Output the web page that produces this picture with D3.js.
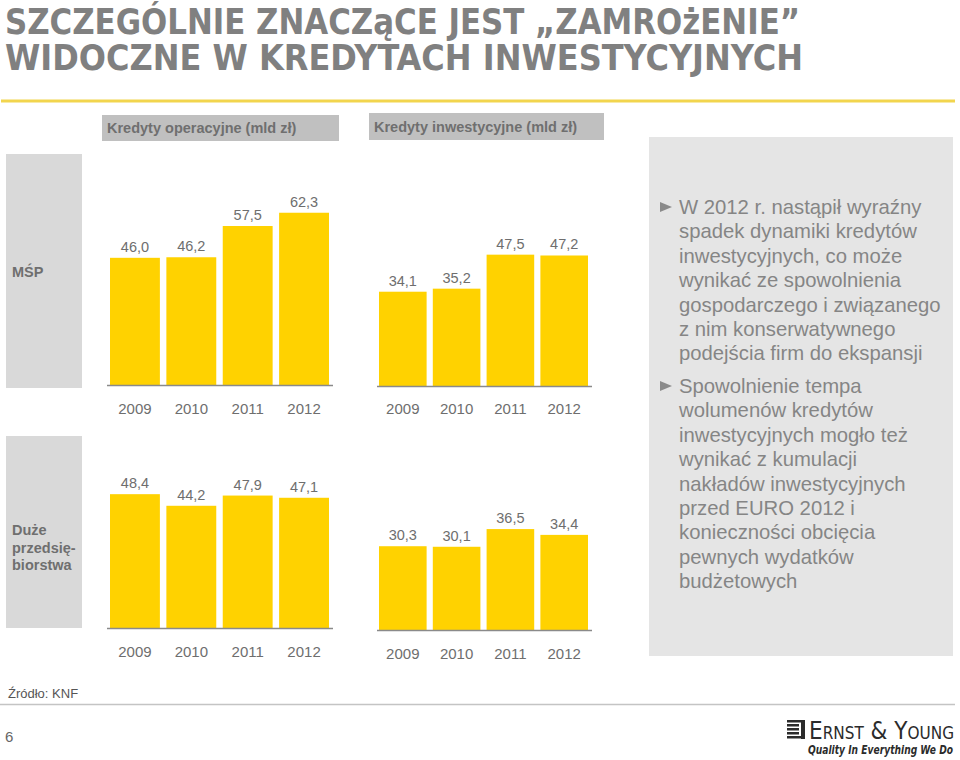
<!DOCTYPE html>
<html>
<head>
<meta charset="utf-8">
<script src="https://cdn.jsdelivr.net/npm/d3@7"></script>
<style>
  html, body { margin: 0; padding: 0; background: #fff; }
  svg { display: block; }
</style>
</head>
<body>
<svg id="chart" width="960" height="760"></svg>
<script>
// ---- data ----
const years = ["2009", "2010", "2011", "2012"];
const mspOperacyjne = [46.0, 46.2, 57.5, 62.3];
const mspInwestycyjne = [34.1, 35.2, 47.5, 47.2];
const duzeOperacyjne = [48.4, 44.2, 47.9, 47.1];
const duzeInwestycyjne = [30.3, 30.1, 36.5, 34.4];

const titleLines = ["SZCZEGÓLNIE ZNACZąCE JEST „ZAMROżENIE”", "WIDOCZNE W KREDYTACH INWESTYCYJNYCH"];
const columnHeaders = ["Kredyty operacyjne (mld zł)", "Kredyty inwestycyjne (mld zł)"];
const rowLabels = [["MŚP"], ["Duże", "przedsię-", "biorstwa"]];
const bullets = [
  ["W 2012 r. nastąpił wyraźny", "spadek dynamiki kredytów", "inwestycyjnych, co może", "wynikać ze spowolnienia", "gospodarczego i związanego", "z nim konserwatywnego", "podejścia firm do ekspansji"],
  ["Spowolnienie tempa", "wolumenów kredytów", "inwestycyjnych mogło też", "wynikać z kumulacji", "nakładów inwestycyjnych", "przed EURO 2012 i", "konieczności obcięcia", "pewnych wydatków", "budżetowych"]
];
const sourceText = "Źródło: KNF";
const pageNumber = "6";
const logoName = "Ernst & Young";
const logoTagline = "Quality In Everything We Do";

// ---- styles ----
const YELLOW = "#ffd200";
const GREY_TXT = "#6e6e6e";
const FONT = "'Liberation Sans', Arial, Helvetica, sans-serif";
const TITLE_FONT = "'DejaVu Sans Condensed', 'DejaVu Sans', sans-serif";

const svg = d3.select("#chart");

// Title
const title = svg.append("g").attr("fill", "#808080")
  .style("font-family", TITLE_FONT)
  .style("font-weight", "bold").style("font-size", "35px");
title.append("text").attr("x", 5).attr("y", 33.5).attr("textLength", 795)
  .attr("lengthAdjust", "spacingAndGlyphs").text(titleLines[0]);
title.append("text").attr("x", 5).attr("y", 69.5).attr("textLength", 798)
  .attr("lengthAdjust", "spacingAndGlyphs").text(titleLines[1]);

// Yellow rule
svg.append("line").attr("x1", 1).attr("x2", 955).attr("y1", 101).attr("y2", 101)
  .attr("stroke", "#f2d54e").attr("stroke-width", 3);

// Column headers
const headerBoxes = [{x: 102, y: 115, w: 237, h: 26}, {x: 369, y: 113, w: 235, h: 27}];
headerBoxes.forEach((b, i) => {
  svg.append("rect").attr("x", b.x).attr("y", b.y).attr("width", b.w).attr("height", b.h).attr("fill", "#c0c0c0");
  svg.append("text").attr("x", b.x + 5).attr("y", b.y + b.h / 2 + 5)
    .attr("fill", "#6f6f6f").style("font-family", FONT).style("font-weight", "bold").style("font-size", "14.5px")
    .text(columnHeaders[i]);
});

// Row label boxes
const rowBoxes = [{x: 6, y: 154, w: 76, h: 234, ys: [277]}, {x: 6, y: 436, w: 76, h: 192, ys: [535, 552.5, 570]}];
rowBoxes.forEach((b, i) => {
  svg.append("rect").attr("x", b.x).attr("y", b.y).attr("width", b.w).attr("height", b.h).attr("fill", "#d9d9d9");
  rowLabels[i].forEach((t, j) => {
    svg.append("text").attr("x", 12).attr("y", b.ys[j]).attr("fill", "#6f6f6f")
      .style("font-family", FONT).style("font-weight", "bold").style("font-size", "14.5px").text(t);
  });
});

// Bar panels
const yPerUnit = 2.765;
const y = d3.scaleLinear().domain([0, 70]).range([0, 70 * yPerUnit]);
const fmt = v => d3.format(".1f")(v).replace(".", ",");

const panels = [
  {data: mspOperacyjne, x0: 110, x1: 329, ax0: 107, ax1: 333, base: 385, yearY: 414},
  {data: mspInwestycyjne, x0: 379, x1: 588, ax0: 377, ax1: 592, base: 386, yearY: 414},
  {data: duzeOperacyjne, x0: 110, x1: 329, ax0: 107, ax1: 333, base: 628, yearY: 657},
  {data: duzeInwestycyjne, x0: 379, x1: 588, ax0: 377, ax1: 592, base: 630, yearY: 659}
];

panels.forEach(p => {
  const x = d3.scaleBand().domain(years).range([p.x0, p.x1]).paddingInner(0.115).paddingOuter(0);
  const g = svg.append("g");
  const rows = years.map((yr, i) => ({yr, v: p.data[i]}));
  g.selectAll("rect.bar").data(rows).join("rect").attr("class", "bar")
    .attr("x", d => x(d.yr)).attr("width", x.bandwidth())
    .attr("y", d => p.base - y(d.v)).attr("height", d => y(d.v))
    .attr("fill", YELLOW);
  g.selectAll("text.val").data(rows).join("text").attr("class", "val")
    .attr("x", d => x(d.yr) + x.bandwidth() / 2).attr("y", d => p.base - y(d.v) - 6)
    .attr("text-anchor", "middle").attr("fill", GREY_TXT)
    .style("font-family", FONT).style("font-size", "14.5px").text(d => fmt(d.v));
  g.append("line").attr("x1", p.ax0).attr("x2", p.ax1).attr("y1", p.base + 0.5).attr("y2", p.base + 0.5)
    .attr("stroke", "#8a8a8a").attr("stroke-width", 1.5);
  g.selectAll("text.yr").data(years).join("text").attr("class", "yr")
    .attr("x", d => x(d) + x.bandwidth() / 2).attr("y", p.yearY)
    .attr("text-anchor", "middle").attr("fill", GREY_TXT)
    .style("font-family", FONT).style("font-size", "15px").text(d => d);
});

// Right commentary panel
svg.append("rect").attr("x", 649).attr("y", 137).attr("width", 304).attr("height", 519).attr("fill", "#e5e5e5");
const bulletStarts = [214, 393];
const lh = 24.4;
bullets.forEach((lines, i) => {
  const by = bulletStarts[i];
  svg.append("path").attr("d", `M660,${by - 12}L672,${by - 7}L660,${by - 2}Z`).attr("fill", "#8a8a8a");
  lines.forEach((t, j) => {
    svg.append("text").attr("x", 679).attr("y", by + j * lh).attr("fill", "#858585")
      .style("font-family", FONT).style("font-size", "20.3px").text(t);
  });
});

// Footer
svg.append("text").attr("x", 8).attr("y", 698).attr("fill", "#555")
  .style("font-family", FONT).style("font-size", "13px").text(sourceText);
svg.append("line").attr("x1", 0).attr("x2", 955).attr("y1", 704.5).attr("y2", 704.5)
  .attr("stroke", "#c4c4c4").attr("stroke-width", 1.5);
svg.append("text").attr("x", 5).attr("y", 742).attr("fill", "#666")
  .style("font-family", FONT).style("font-size", "15px").text(pageNumber);

// Ernst & Young logo
const logo = svg.append("g").attr("fill", "#2b2b2b");
[0, 1, 2, 3, 4].forEach(k => {
  logo.append("rect").attr("x", 787).attr("y", 720 + k * 4).attr("width", k === 0 || k === 4 ? 18 : 12).attr("height", 2.5);
});
logo.append("rect").attr("x", 801).attr("y", 720).attr("width", 4).attr("height", 19);

function fitText(sel, targetW, xRight, yBase) {
  const w = sel.node().getComputedTextLength();
  const s = Math.min(1, targetW / w);
  sel.attr("transform", `translate(${xRight},${yBase}) scale(${s},1)`);
}
const nameText = logo.append("text").attr("x", 0).attr("y", 0).attr("text-anchor", "end")
  .style("font-family", TITLE_FONT).style("font-variant", "small-caps").style("font-size", "24px")
  .text(logoName);
fitText(nameText, 145, 954, 739);
const tagText = logo.append("text").attr("x", 0).attr("y", 0).attr("text-anchor", "end")
  .style("font-family", TITLE_FONT)
  .style("font-style", "italic").style("font-weight", "bold").style("font-size", "12px")
  .text(logoTagline);
fitText(tagText, 145, 953, 754);
</script>
</body>
</html>
